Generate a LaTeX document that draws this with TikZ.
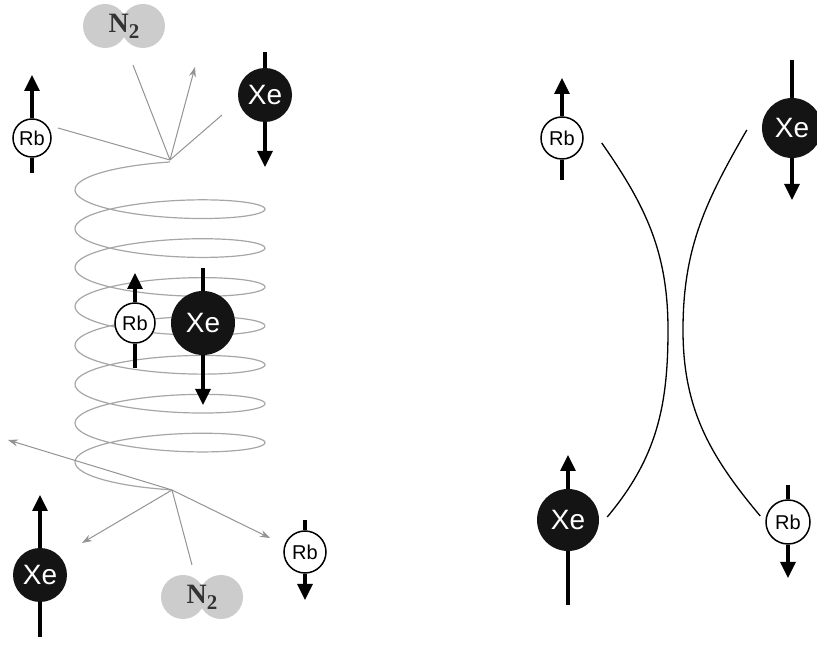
\documentclass[tikz,border=0pt]{standalone}
\usepackage{fontspec}
\setmainfont{Liberation Serif}
\setsansfont{Liberation Sans}
\usetikzlibrary{arrows.meta, positioning, calc}

\begin{document}
\begin{tikzpicture}[
  x=1pt, y=1pt,
  rb/.style={circle, draw, line width=1.5pt, fill=white, minimum size=38pt, inner sep=0pt, font=\sffamily\fontsize{20}{20}\selectfont},
  xe/.style={circle, fill=black!92, text=white, minimum size=54pt, inner sep=0pt, font=\sffamily\fontsize{28}{28}\selectfont},
  spin/.style={line width=3.2pt, -{Triangle[length=16pt, width=15pt]}},
  stub/.style={line width=3.2pt},
  blob/.style={circle, fill=gray!40, minimum size=44pt, inner sep=0pt},
  nitro/.style={font=\bfseries\fontsize{28}{28}\selectfont, text=black!80},
  track/.style={gray!85, line width=1pt},
  shot/.style={track, -{Stealth[length=10pt, width=7pt]}},
  coil/.style={gray!70, line width=1.2pt},
  branch/.style={line width=1.3pt}
]
\useasboundingbox (0,0) rectangle (817,645);

% collision in the coil
\draw[coil, domain=90:2790, samples=500, smooth, variable=\t]
  plot ({170+95*cos(\t)}, {645-(180+0.10806*(\t-90)-18*sin(\t))});

\coordinate (ctop) at (170,485);
\coordinate (cbot) at (172,155);

% incoming particles
\node[blob] (n2ta) at (105,619) {};
\node[blob] (n2tb) at (143,619) {};
\node[nitro] (n2t) at (124,619) {N\raisebox{-6pt}{\fontsize{21}{21}\selectfont 2}};
\node[rb] (rb1) at (32,507) {Rb};
\node[xe] (xe1) at (265,550) {Xe};
\coordinate (rb1up) at (32,570);
\coordinate (rb1dn) at (32,472);
\coordinate (xe1up) at (265,593);
\coordinate (xe1dn) at (265,478);
\draw[spin] (rb1) -- (rb1up);
\draw[stub] (rb1) -- (rb1dn);
\draw[stub] (xe1) -- (xe1up);
\draw[spin] (xe1) -- (xe1dn);

\coordinate (n2in) at (133,580);
\coordinate (rbin) at (58,517);
\coordinate (xein) at (222,530);
\coordinate (scat) at (195,578);
\draw[track] (n2in) -- (ctop);
\draw[track] (rbin) -- (ctop);
\draw[track] (xein) -- (ctop);
\draw[shot] (ctop) -- (scat);

% the pair inside the coil
\node[rb, minimum size=40pt] (rb2) at (135,322) {Rb};
\node[xe, minimum size=64pt] (xe2) at (203,322) {Xe};
\coordinate (rb2up) at (135,372);
\coordinate (rb2dn) at (135,277);
\coordinate (xe2up) at (203,377);
\coordinate (xe2dn) at (203,240);
\draw[spin] (rb2) -- (rb2up);
\draw[stub] (rb2) -- (rb2dn);
\draw[stub] (xe2) -- (xe2up);
\draw[spin] (xe2) -- (xe2dn);

% outgoing particles
\node[blob] (n2ba) at (183,48) {};
\node[blob] (n2bb) at (221,48) {};
\node[nitro] (n2b) at (202,48) {N\raisebox{-6pt}{\fontsize{21}{21}\selectfont 2}};
\node[xe] (xe3) at (40,70) {Xe};
\node[rb, minimum size=42pt] (rb3) at (305,93) {Rb};
\coordinate (xe3up) at (40,150);
\coordinate (xe3dn) at (40,8);
\coordinate (rb3up) at (305,125);
\coordinate (rb3dn) at (305,45);
\draw[spin] (xe3) -- (xe3up);
\draw[stub] (xe3) -- (xe3dn);
\draw[stub] (rb3) -- (rb3up);
\draw[spin] (rb3) -- (rb3dn);

\coordinate (away) at (8,205);
\coordinate (xeout) at (82,102);
\coordinate (n2out) at (192,80);
\coordinate (rbout) at (270,107);
\draw[shot] (cbot) -- (away);
\draw[shot] (cbot) -- (xeout);
\draw[track] (cbot) -- (n2out);
\draw[shot] (cbot) -- (rbout);

% spin exchange, before and after
\node[rb, minimum size=42pt] (rb4) at (562,507) {Rb};
\node[xe, minimum size=60pt] (xe4) at (792,517) {Xe};
\node[xe, minimum size=62pt] (xe5) at (568,125) {Xe};
\node[rb, minimum size=44pt] (rb5) at (788,123) {Rb};
\coordinate (rb4up) at (562,567);
\coordinate (rb4dn) at (562,465);
\coordinate (xe4up) at (792,585);
\coordinate (xe4dn) at (792,445);
\coordinate (xe5up) at (568,190);
\coordinate (xe5dn) at (568,40);
\coordinate (rb5up) at (788,160);
\coordinate (rb5dn) at (788,67);
\draw[spin] (rb4) -- (rb4up);
\draw[stub] (rb4) -- (rb4dn);
\draw[stub] (xe4) -- (xe4up);
\draw[spin] (xe4) -- (xe4dn);
\draw[spin] (xe5) -- (xe5up);
\draw[stub] (xe5) -- (xe5dn);
\draw[stub] (rb5) -- (rb5up);
\draw[spin] (rb5) -- (rb5dn);

\coordinate (gapl) at (668,315);
\coordinate (gapr) at (683,315);
\draw[branch] ($(rb4.east)+(18,-5)$) to[out=-55, in=90] (gapl)
  to[out=-90, in=50] ($(xe5.east)+(8,3)$);
\draw[branch] ($(xe4.west)+(-15,-2)$) to[out=-120, in=90] (gapr)
  to[out=-90, in=130] ($(rb5.west)+(-5,6)$);
\end{tikzpicture}
\end{document}
